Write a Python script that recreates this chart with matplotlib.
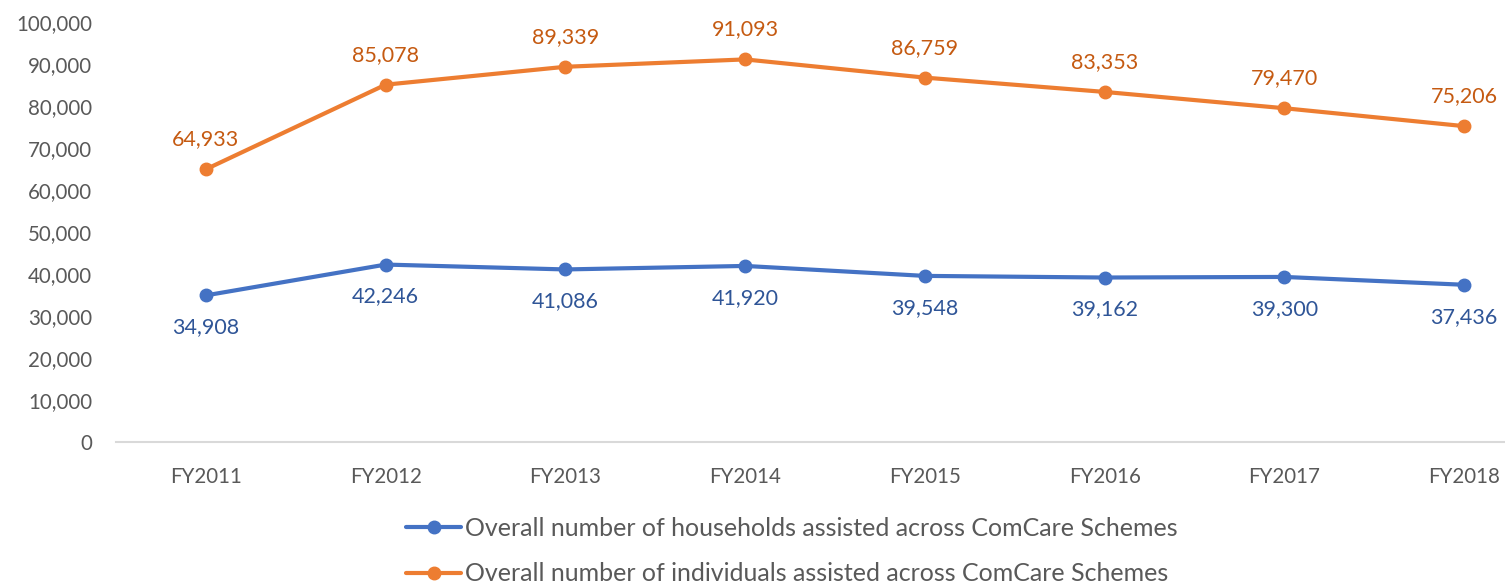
import matplotlib
matplotlib.use("Agg")
import matplotlib.pyplot as plt
from matplotlib.ticker import FuncFormatter

years = ["FY2011", "FY2012", "FY2013", "FY2014", "FY2015", "FY2016", "FY2017", "FY2018"]
households = [34908, 42246, 41086, 41920, 39548, 39162, 39300, 37436]
individuals = [64933, 85078, 89339, 91093, 86759, 83353, 79470, 75206]
series_names = ["Overall number of households assisted across ComCare Schemes",
                "Overall number of individuals assisted across ComCare Schemes"]

plt.rcParams['font.family'] = ['Lato', 'DejaVu Sans']

fig = plt.figure(figsize=(15.05, 5.87), dpi=100)
ax = fig.add_axes([116/1505, 1-442/587, (1554-116)/1505, (442-22)/587])

x = list(range(len(years)))
blue, orange = "#4472C4", "#ED7D31"
lh, = ax.plot(x, households, color=blue, lw=3, marker="o", ms=9, label=series_names[0], solid_capstyle="round")
li, = ax.plot(x, individuals, color=orange, lw=3, marker="o", ms=9, label=series_names[1], solid_capstyle="round")

for xi, v in zip(x, households):
    ax.annotate(f"{v:,}", (xi, v), xytext=(0, -32), textcoords="offset pixels",
                ha="center", va="center", fontsize=15.5, color="#2F5597")
for xi, v in zip(x, individuals):
    ax.annotate(f"{v:,}", (xi, v), xytext=(0, 30), textcoords="offset pixels",
                ha="center", va="center", fontsize=15.5, color="#C55A11")

ax.set_xlim(-0.5, 7.5)
ax.set_ylim(0, 100000)
ax.set_yticks(range(0, 100001, 10000))
ax.yaxis.set_major_formatter(FuncFormatter(lambda v, p: f"{int(v):,}"))
ax.set_xticks(x)
ax.set_xticklabels(years)
for s in ["top", "right", "left"]:
    ax.spines[s].set_visible(False)
ax.spines["bottom"].set_color("#D9D9D9")
ax.spines["bottom"].set_linewidth(1.5)
ax.tick_params(axis="both", length=0, labelsize=14.8, colors="#595959")
ax.tick_params(axis="x", pad=18)
ax.tick_params(axis="y", pad=17)

leg = fig.legend(handles=[lh, li], loc="center", bbox_to_anchor=(792/1505, 1-551/587),
                 ncol=1, frameon=False, fontsize=18, labelcolor="#595959",
                 handlelength=2.2, handletextpad=0.15, labelspacing=0.9)

fig.savefig("out.png", dpi=100)
